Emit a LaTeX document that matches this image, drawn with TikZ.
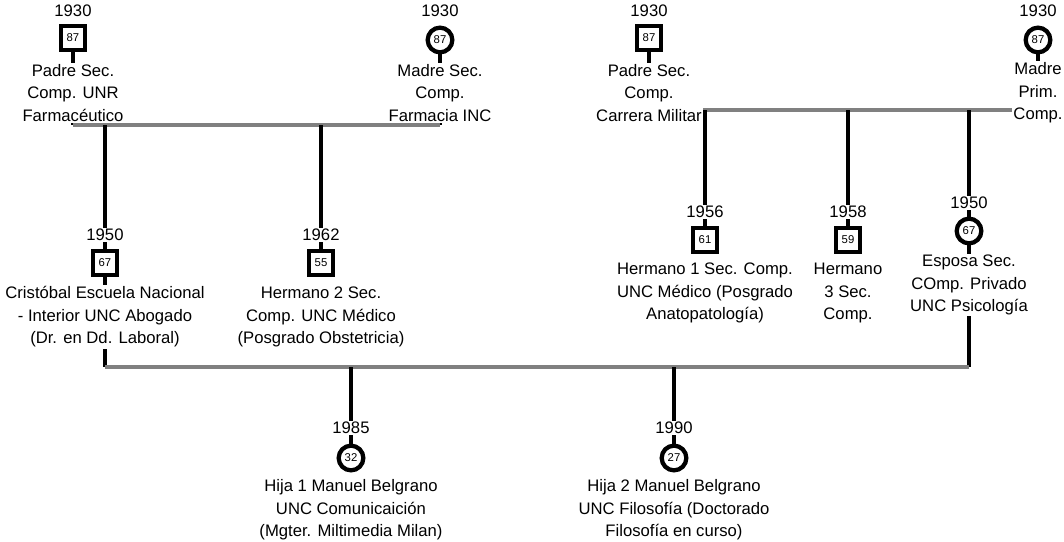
\documentclass[tikz,border=0pt]{standalone}
\usepackage{fontspec}
\setmainfont{Liberation Sans}
\usetikzlibrary{backgrounds}
\definecolor{lineGray}{RGB}{128,128,128}

\begin{document}
\begin{tikzpicture}
	[x=0.75pt,y=-0.75pt,
	 male/.style={draw,line width=3.2pt,fill=white,minimum size=17.5pt,inner sep=0pt,font=\fontsize{8.5}{9}\selectfont},
	 female/.style={circle,draw,line width=3.2pt,fill=white,minimum size=18.5pt,inner sep=0pt,font=\fontsize{8.5}{9}\selectfont},
	 year/.style={fill=white,inner sep=1pt,font=\fontsize{12.5}{15}\selectfont},
	 info/.style={fill=white,align=center,inner sep=1pt,font=\fontsize{12.5}{16.9}\selectfont},
	 kin/.style={line width=3pt},
	 union/.style={line width=3pt,draw=lineGray}]
	\useasboundingbox (0,0) rectangle (1064,542);

	% first generation: the two couples
	\node[male] (padreA) at (73,38) {87};
	\node[year] (padreAy) at (73,11) {1930};
	\node[info] (padreAt) at (73,93) {Padre Sec.\\Comp. UNR\\Farmacéutico};

	\node[female] (madreA) at (440,40) {87};
	\node[year] (madreAy) at (440,11) {1930};
	\node[info] (madreAt) at (440,93) {Madre Sec.\\Comp.\\Farmacia INC};

	\node[male] (padreB) at (649,38) {87};
	\node[year] (padreBy) at (649,11) {1930};
	\node[info] (padreBt) at (649,93) {Padre Sec.\\Comp.\\Carrera Militar};

	\node[female] (madreB) at (1038,40) {87};
	\node[year] (madreBy) at (1038,11) {1930};
	\node[info] (madreBt) at (1038,93) {Madre\\Prim.\\Comp.};

	% second generation
	\node[male] (cristobal) at (105,263) {67};
	\node[year] (cristobaly) at (105,235) {1950};
	\node[info] (cristobalt) at (105,317) {Cristóbal Escuela Nacional\\- Interior UNC Abogado\\(Dr. en Dd. Laboral)};

	\node[male] (hermanoB) at (321,263) {55};
	\node[year] (hermanoBy) at (321,235) {1962};
	\node[info] (hermanoBt) at (321,317) {Hermano 2 Sec.\\Comp. UNC Médico\\(Posgrado Obstetricia)};

	\node[male] (hermanoA) at (705,240) {61};
	\node[year] (hermanoAy) at (705,212) {1956};
	\node[info] (hermanoAt) at (705,293) {Hermano 1 Sec. Comp.\\UNC Médico (Posgrado\\Anatopatología)};

	\node[male] (hermanoC) at (848,240) {59};
	\node[year] (hermanoCy) at (848,212) {1958};
	\node[info] (hermanoCt) at (848,293) {Hermano\\3 Sec.\\Comp.};

	\node[female] (esposa) at (969,231) {67};
	\node[year] (esposay) at (969,203) {1950};
	\node[info] (esposat) at (969,285) {Esposa Sec.\\COmp. Privado\\UNC Psicología};

	% third generation
	\node[female] (hijaA) at (351,458) {32};
	\node[year] (hijaAy) at (351,428) {1985};
	\node[info] (hijaAt) at (351,510) {Hija 1 Manuel Belgrano\\UNC Comunicaición\\(Mgter. Miltimedia Milan)};

	\node[female] (hijaB) at (674,458) {27};
	\node[year] (hijaBy) at (674,428) {1990};
	\node[info] (hijaBt) at (674,510) {Hija 2 Manuel Belgrano\\UNC Filosofía (Doctorado\\Filosofía en curso)};

	% union points
	\coordinate (unionAl) at (73,125);
	\coordinate (unionAr) at (440,125);
	\coordinate (unionBl) at (649,110);
	\coordinate (unionBr) at (1038,110);
	\coordinate (unionCl) at (105,367);
	\coordinate (unionCr) at (969,367);

	% draw the lines behind the nodes
	\begin{scope}[on background layer]
		\draw[kin] (padreA) -- (unionAl);
		\draw[kin] (madreA) -- (unionAr);
		\draw[union] (unionAl) -- (unionAr);
		\draw[kin] (cristobal) -- (cristobal |- unionAl);
		\draw[kin] (hermanoB) -- (hermanoB |- unionAl);

		\draw[kin] (padreB) -- (unionBl);
		\draw[kin] (madreB) -- (unionBr);
		\draw[union] (unionBl) -- (unionBr);
		\draw[kin] (hermanoA) -- (hermanoA |- unionBl);
		\draw[kin] (hermanoC) -- (hermanoC |- unionBl);
		\draw[kin] (esposa) -- (esposa |- unionBl);

		\draw[kin] (cristobal) -- (unionCl);
		\draw[kin] (esposa) -- (unionCr);
		\draw[union] (unionCl) -- (unionCr);
		\draw[kin] (hijaA) -- (hijaA |- unionCl);
		\draw[kin] (hijaB) -- (hijaB |- unionCl);
	\end{scope}
\end{tikzpicture}
\end{document}
